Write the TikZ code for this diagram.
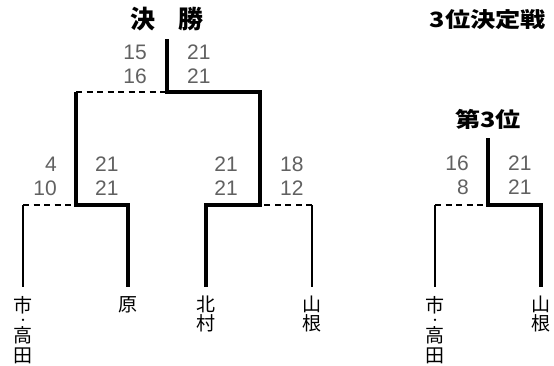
\documentclass[tikz,border=0pt]{standalone}
\usepackage{fontspec}
\setmainfont{Liberation Sans}
\newfontfamily\cjk{Noto Sans CJK JP}
\newcommand\smalldot{{\fontsize{11}{11}\selectfont ・}}
\newcommand\widen[1]{\scalebox{1.2}[1]{#1}}
\begin{document}
\begin{tikzpicture}[x=1pt,y=-1pt,
  win/.style={line width=4.5pt, line join=miter},
  thin/.style={line width=1.8pt},
  lost/.style={line width=2pt, dash pattern=on 6pt off 4.5pt},
  scoreL/.style={inner sep=0pt, anchor=east, align=right, text=black!62, font=\fontsize{21}{24}\selectfont},
  scoreR/.style={inner sep=0pt, anchor=west, align=right, text=black!62, font=\fontsize{21}{24}\selectfont},
  title/.style={inner sep=0pt, font=\cjk\bfseries\fontsize{25}{25}\selectfont},
  widetitle/.style={inner sep=0pt, font=\cjk\bfseries\fontsize{21}{21}\selectfont},
  team/.style={inner sep=0pt, anchor=north, align=center, font=\cjk\fontsize{19}{19}\selectfont}]
\useasboundingbox (0,0) rectangle (554,365);
% coordinates
\coordinate (ftop) at (167,39);
\coordinate (fj) at (167,92);
\coordinate (sl) at (76,92);
\coordinate (sr) at (260,92);
\coordinate (slj) at (76,205);
\coordinate (srj) at (260,205);
\coordinate (a1) at (23,205);  \coordinate (b1) at (23,287);
\coordinate (a2) at (128,205); \coordinate (b2) at (128,287);
\coordinate (a3) at (206,205); \coordinate (b3) at (206,287);
\coordinate (a4) at (312,205); \coordinate (b4) at (312,287);
\coordinate (ttop) at (488,138);
\coordinate (tj) at (488,205);
\coordinate (a5) at (435,205); \coordinate (b5) at (435,287);
\coordinate (a6) at (541,205); \coordinate (b6) at (541,287);
% lines
\draw[win] (ftop) -- (fj) -- (sr) -- (srj) -- (a3) -- (b3);
\draw[win] (sl) -- (slj) -- (a2) -- (b2);
\draw[lost] (sl) -- (fj);
\draw[lost] (a1) -- (slj);
\draw[lost] (a4) -- (srj);
\draw[thin] (a1) -- (b1);
\draw[thin] (a4) -- (b4);
\draw[win] (ttop) -- (tj) -- (a6) -- (b6);
\draw[lost] (a5) -- (tj);
\draw[thin] (a5) -- (b5);
% titles
\node[title] (final) at (166.5,19) {決\hspace{23pt}勝};
\node[widetitle] (third) at (488,20) {\widen{3位決定戦}};
\node[widetitle] (thirdw) at (488,119) {\widen{第3位}};
% scores
\node[scoreL] (fs1) at (147,64) {15\\16};
\node[scoreR] (fs2) at (187,64) {21\\21};
\node[scoreL] (ls1) at (57,176) {4\\10};
\node[scoreR] (ls2) at (95,176) {21\\21};
\node[scoreL] (rs1) at (238,176) {21\\21};
\node[scoreR] (rs2) at (280,176) {18\\12};
\node[scoreL] (ts1) at (469,175.5) {16\\8};
\node[scoreR] (ts2) at (508,175.5) {21\\21};
% teams
\node[team] (t1) at ([yshift=-9pt]b1) {市\\[-7pt]\smalldot\\[-1pt]高\\[1pt]田};
\node[team] (t2) at ([yshift=-9pt]b2) {原};
\node[team] (t3) at ([yshift=-9pt]b3) {北\\村};
\node[team] (t4) at ([yshift=-9pt]b4) {山\\根};
\node[team] (t5) at ([yshift=-9pt]b5) {市\\[-7pt]\smalldot\\[-1pt]高\\[1pt]田};
\node[team] (t6) at ([yshift=-9pt]b6) {山\\根};
\end{tikzpicture}
\end{document}
